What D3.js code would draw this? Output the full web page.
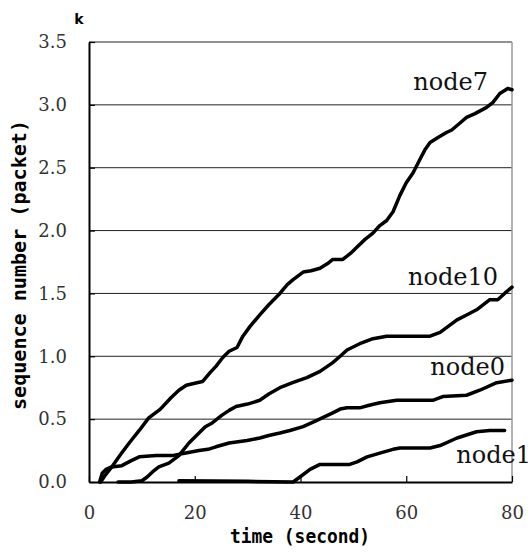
<!DOCTYPE html>
<html>
<head>
<meta charset="utf-8">
<script src="https://cdn.jsdelivr.net/npm/d3@7"></script>
<style>
	body { margin: 0; background: #fff; }
	svg { display: block; }
</style>
</head>
<body>
<div id="chart"></div>
<script>
// values: [time (s), sequence number (k packets)]
const node7 = [[2.2,0],[3,0.05],[4.3,0.12],[6,0.22],[7.6,0.31],[9.5,0.41],[11.3,0.51],[13.5,0.58],[15.5,0.67],[17,0.73],[18.4,0.77],[20.4,0.79],[21.5,0.80],[22.9,0.87],[24,0.92],[25.3,0.99],[26.5,1.04],[28,1.07],[29.1,1.16],[30.5,1.24],[32.3,1.33],[34,1.41],[36.1,1.50],[37.5,1.57],[38.6,1.61],[40.5,1.67],[42,1.68],[43.7,1.70],[45.2,1.74],[46.1,1.77],[48,1.77],[49.5,1.82],[50.7,1.87],[52.2,1.93],[53.7,1.98],[55,2.04],[56.3,2.08],[57.5,2.15],[58.8,2.28],[60,2.38],[61.3,2.46],[62.5,2.56],[63.5,2.64],[64.5,2.70],[66,2.74],[67.6,2.78],[68.6,2.80],[70,2.85],[71.4,2.90],[73,2.93],[75.2,2.98],[76.4,3.02],[77.7,3.09],[79.2,3.13],[80,3.12]];
const node10 = [[5.5,0],[8,0],[10,0.01],[11,0.04],[12,0.08],[13.2,0.12],[15.1,0.15],[17,0.21],[18.9,0.31],[20.8,0.39],[22,0.44],[23.3,0.47],[25.1,0.53],[26.5,0.57],[27.8,0.60],[30,0.62],[32.3,0.65],[34,0.70],[36.1,0.75],[38.5,0.79],[41.2,0.83],[43.7,0.88],[46.1,0.95],[47.5,1.00],[48.8,1.05],[51.2,1.10],[53.7,1.14],[56.3,1.16],[58.8,1.16],[64.5,1.16],[66.4,1.19],[68,1.24],[69.6,1.29],[71.5,1.33],[73.3,1.37],[75.8,1.45],[77.3,1.45],[78.6,1.50],[80,1.55]];
const node0 = [[2,0],[2.5,0.07],[3.2,0.1],[4.3,0.12],[6.2,0.13],[8,0.17],[9.5,0.20],[12.7,0.21],[15.7,0.21],[18.3,0.23],[20.8,0.25],[22.5,0.26],[24,0.28],[26.5,0.31],[29.9,0.33],[32.3,0.35],[34,0.37],[36.1,0.39],[38,0.41],[40.5,0.44],[43.1,0.49],[46.1,0.55],[47.5,0.58],[48.8,0.59],[51.2,0.59],[53,0.61],[55,0.63],[58.2,0.65],[65,0.65],[66.9,0.68],[71.4,0.69],[73.9,0.73],[77.1,0.79],[80,0.81]];
const node1 = [[17,0.01],[30,0.005],[38.6,0],[39.9,0.04],[41.8,0.10],[43.7,0.14],[49.3,0.14],[50.7,0.16],[52.6,0.20],[55,0.23],[57.5,0.26],[58.8,0.27],[64.5,0.27],[66.4,0.29],[69.6,0.35],[73.3,0.40],[75.8,0.41],[78.6,0.41]];

const seriesNames = ["node7", "node10", "node0", "node1"];
const seriesData = [node7, node10, node0, node1];

const xTicks = [0, 20, 40, 60, 80];
const yTicks = [0, 0.5, 1.0, 1.5, 2.0, 2.5, 3.0, 3.5];

const W = 531, H = 552;
const margin = { top: 42, right: 19, bottom: 70, left: 89 };
const iw = W - margin.left - margin.right;
const ih = H - margin.top - margin.bottom;

const svg = d3.select("#chart").append("svg").attr("width", W).attr("height", H);
const g = svg.append("g").attr("transform", `translate(${margin.left},${margin.top})`);

const x = d3.scaleLinear().domain([0, 80]).range([0, iw]);
const y = d3.scaleLinear().domain([0, 3.5]).range([ih, 0]);

const serif = "'DejaVu Serif', serif";
const mono = "'DejaVu Sans Mono', monospace";

// horizontal grid
g.append("g")
	.selectAll("line")
	.data(yTicks.filter((d) => d > 0))
	.join("line")
	.attr("x1", 0)
	.attr("x2", iw)
	.attr("y1", (d) => y(d))
	.attr("y2", (d) => y(d))
	.attr("stroke", "#222")
	.attr("stroke-width", 1);

// right border
g.append("line")
	.attr("x1", iw).attr("x2", iw)
	.attr("y1", 0).attr("y2", ih)
	.attr("stroke", "#999")
	.attr("stroke-width", 1.5);

// axes, ticks inward
const yAxis = g.append("g")
	.call(d3.axisLeft(y).tickValues(yTicks).tickFormat(d3.format(".1f")).tickSizeInner(-6).tickSizeOuter(0).tickPadding(22));
const xAxis = g.append("g")
	.attr("transform", `translate(0,${ih})`)
	.call(d3.axisBottom(x).tickValues(xTicks).tickSizeInner(-6).tickSizeOuter(0).tickPadding(24));

[yAxis, xAxis].forEach((a) => {
	a.select(".domain").attr("stroke", "#000").attr("stroke-width", 2);
	a.selectAll(".tick line").attr("stroke", "#000").attr("stroke-width", 1.2);
	a.selectAll(".tick text")
		.attr("fill", "#333")
		.style("font-family", serif)
		.style("font-size", "18px");
});

// series lines
const line = d3.line()
	.x((d) => x(d[0]))
	.y((d) => y(d[1]));

g.append("g")
	.selectAll("path")
	.data(seriesData)
	.join("path")
	.attr("d", line)
	.attr("fill", "none")
	.attr("stroke", "#000")
	.attr("stroke-width", 3.5)
	.attr("stroke-linejoin", "round")
	.attr("stroke-linecap", "round");

// series labels (placed by hand near the line ends)
const labelPos = [
	{ x: 488, y: 90 },
	{ x: 498, y: 285 },
	{ x: 505, y: 375 },
	{ x: 531, y: 463 },
];
svg.append("g")
	.selectAll("text")
	.data(seriesNames)
	.join("text")
	.attr("x", (d, i) => labelPos[i].x)
	.attr("y", (d, i) => labelPos[i].y)
	.attr("text-anchor", "end")
	.style("font-family", serif)
	.style("font-size", "24px")
	.attr("fill", "#111")
	.text((d) => d);

// unit mark
svg.append("text")
	.attr("x", 79)
	.attr("y", 24)
	.attr("text-anchor", "middle")
	.style("font-family", "'DejaVu Sans', sans-serif")
	.style("font-weight", "bold")
	.style("font-size", "14px")
	.text("k");

// axis titles
svg.append("text")
	.attr("x", 300)
	.attr("y", 543)
	.attr("text-anchor", "middle")
	.attr("textLength", 140)
	.attr("lengthAdjust", "spacingAndGlyphs")
	.style("font-family", mono)
	.style("font-weight", "bold")
	.style("font-size", "19px")
	.text("time (second)");

svg.append("text")
	.attr("transform", "translate(26,265) rotate(-90)")
	.attr("text-anchor", "middle")
	.attr("textLength", 290)
	.attr("lengthAdjust", "spacingAndGlyphs")
	.style("font-family", mono)
	.style("font-weight", "bold")
	.style("font-size", "20px")
	.text("sequence number (packet)");
</script>
</body>
</html>
